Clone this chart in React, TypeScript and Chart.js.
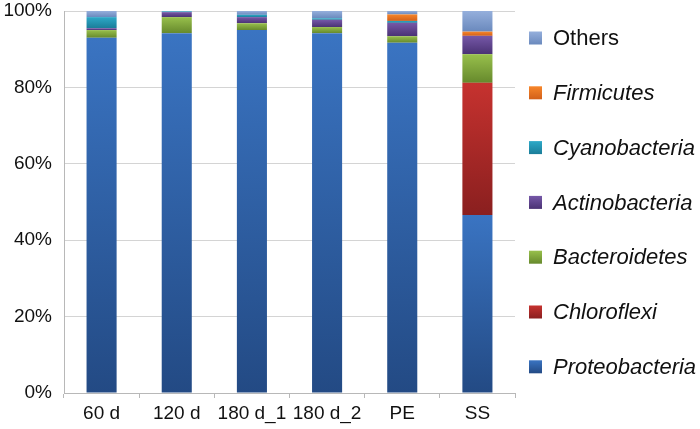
import React, { useEffect, useRef } from "react";
import { Chart, registerables } from "chart.js";

Chart.register(...registerables);

const categories = ["60 d", "120 d", "180 d_1", "180 d_2", "PE", "SS"];
const yTickLabels = ["0%", "20%", "40%", "60%", "80%", "100%"];

const proteobacteria = [93.0, 94.2, 95.0, 94.2, 91.7, 46.6];
const chloroflexi = [0, 0, 0, 0, 0, 34.6];
const bacteroidetes = [2.0, 4.2, 1.8, 1.6, 1.7, 7.5];
const actinobacteria = [0.5, 1.3, 1.6, 1.9, 3.5, 4.8];
const cyanobacteria = [2.9, 0.2, 0.6, 0.4, 0.5, 0.0];
const firmicutes = [0, 0, 0, 0, 1.7, 1.1];
const others = [1.6, 0.1, 1.0, 1.9, 0.9, 5.4];

// bottom-to-top stacking order
const seriesNames = [
  "Proteobacteria",
  "Chloroflexi",
  "Bacteroidetes",
  "Actinobacteria",
  "Cyanobacteria",
  "Firmicutes",
  "Others",
];
const seriesData = [proteobacteria, chloroflexi, bacteroidetes, actinobacteria, cyanobacteria, firmicutes, others];
const seriesItalic = [true, true, true, true, true, true, false];
// [top color, bottom color] for gradient
const seriesColors: [string, string][] = [
  ["#3a74c2", "#234a84"],
  ["#c6322f", "#8a1f1f"],
  ["#98c04c", "#66892c"],
  ["#7658a8", "#4a3274"],
  ["#2ea9c8", "#1a7d99"],
  ["#f7862a", "#d2601a"],
  ["#95afdc", "#6a89bd"],
];

const FONT = "Arial, 'Liberation Sans', sans-serif";

export default function App() {
  const ref = useRef<HTMLCanvasElement>(null);

  useEffect(() => {
    document.body.style.margin = "0";
    const canvas = ref.current;
    if (!canvas) return;

    const makeGradient = (c: CanvasRenderingContext2D, y0: number, y1: number, idx: number) => {
      const [top, bottom] = seriesColors[idx];
      if (!isFinite(y0) || !isFinite(y1) || Math.abs(y1 - y0) < 0.5) return top;
      const g = c.createLinearGradient(0, y0, 0, y1);
      g.addColorStop(0, top);
      g.addColorStop(1, bottom);
      return g;
    };

    const legendPlugin = {
      id: "customLegend",
      afterDraw(chart: any) {
        const c = chart.ctx as CanvasRenderingContext2D;
        c.save();
        const n = seriesNames.length;
        for (let k = 0; k < n; k++) {
          const idx = n - 1 - k;
          const cy = 38 + 54.8 * k;
          const bx = 529;
          const by = cy - 6.5;
          c.fillStyle = makeGradient(c, by, by + 13, idx) as any;
          c.fillRect(bx, by, 13, 13);
          c.font = `${seriesItalic[idx] ? "italic " : ""}22px ${FONT}`;
          c.fillStyle = "#111";
          c.textBaseline = "middle";
          c.textAlign = "left";
          c.fillText(seriesNames[idx], 553, cy + 1);
        }
        c.restore();
      },
    };

    const datasets = seriesNames.map((name, i) => ({
      label: name,
      data: seriesData[i],
      backgroundColor: (ctx: any) => {
        const chart = ctx.chart;
        if (ctx.type !== "data" || !chart.chartArea || !chart.scales || !chart.scales.y) return seriesColors[i][0];
        const j = ctx.dataIndex;
        let bottom = 0;
        for (let k = 0; k < i; k++) bottom += seriesData[k][j];
        const top = bottom + seriesData[i][j];
        const ys = chart.scales.y;
        return makeGradient(chart.ctx, ys.getPixelForValue(top), ys.getPixelForValue(bottom), i);
      },
      borderWidth: 0,
      categoryPercentage: 1,
      barPercentage: 0.4,
    }));

    const chart = new Chart(canvas, {
      type: "bar",
      data: { labels: categories, datasets },
      options: {
        responsive: false,
        animation: false,
        layout: { padding: { left: 0, right: 185, top: 11, bottom: 0 } },
        plugins: { legend: { display: false }, tooltip: { enabled: false } },
        scales: {
          x: {
            stacked: true,
            grid: {
              offset: true,
              drawOnChartArea: false,
              drawTicks: true,
              tickLength: 5,
              color: "#b8b8b8",
            },
            border: { color: "#b8b8b8", width: 1 },
            ticks: { color: "#111", font: { family: FONT, size: 19 }, padding: 4, maxRotation: 0, autoSkip: false },
            afterFit: (s: any) => {
              s.height = 36;
              s.paddingLeft = 0;
              s.paddingRight = 0;
            },
          },
          y: {
            stacked: true,
            min: 0,
            max: 100,
            grid: { color: "#d4d4d4", drawTicks: false },
            border: { color: "#b8b8b8", width: 1 },
            ticks: {
              stepSize: 20,
              color: "#111",
              font: { family: FONT, size: 19 },
              padding: 12,
              callback: (v: any) => yTickLabels[Math.round(Number(v) / 20)] ?? "",
            },
            afterFit: (s: any) => {
              s.width = 64;
              s.paddingTop = 0;
              s.paddingBottom = 0;
            },
          },
        },
      },
      plugins: [legendPlugin],
    });

    return () => chart.destroy();
  }, []);

  return (
    <div style={{ width: 700, height: 429 }}>
      <canvas ref={ref} width={700} height={429} />
    </div>
  );
}
